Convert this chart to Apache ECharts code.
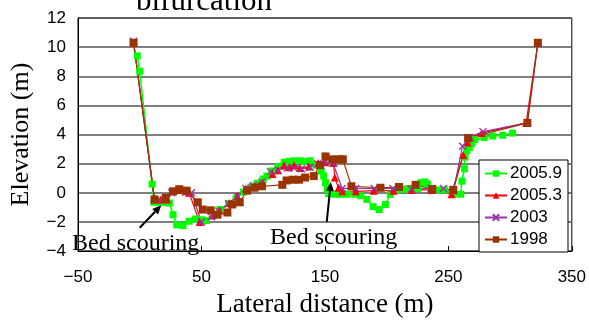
<!DOCTYPE html>
<html>
<head>
<meta charset="utf-8">
<script src="https://cdn.jsdelivr.net/npm/echarts@6/dist/echarts.min.js"></script>
<style>
  html, body { margin: 0; padding: 0; background: #fff; }
  #chart { width: 589px; height: 323px; }
</style>
</head>
<body>
<div id="chart"></div>
<script>
// Cross-section survey: lateral distance (m) vs bed elevation (m)
const seriesNames = ['2005.9', '2005.3', '2003', '1998'];

const x2005_9 = [-2, 0, 10, 11.5, 16, 21, 24, 27, 30, 35, 40, 45, 50, 54, 65, 72, 78, 84, 90, 95, 100, 103, 107, 112, 117, 121, 125, 130, 134, 138, 142.5, 147, 149, 150.5, 152, 153, 158, 163, 168, 174, 179, 184, 189, 194, 199, 203, 209, 215, 220, 225, 228, 231, 233, 237, 242, 247, 254, 260, 261, 263, 263.5, 265, 267, 269, 271.5, 279, 286, 294, 302];
const y2005_9 = [9.4, 8.35, 0.6, -0.65, -0.65, -0.65, -0.7, -1.5, -2.2, -2.25, -1.95, -1.8, -1.85, -1.9, -1.15, -0.75, -0.4, 0.05, 0.4, 0.65, 0.95, 1.15, 1.5, 1.8, 2.1, 2.15, 2.2, 2.2, 2.15, 2.2, 1.9, 1.5, 1.15, 0.7, 0.25, -0.05, -0.1, -0.1, -0.1, -0.1, -0.2, -0.45, -0.95, -1.15, -0.8, -0.1, 0.2, 0.25, 0.25, 0.3, 0.7, 0.75, 0.6, 0.3, 0.2, 0.2, -0.1, -0.1, 0.8, 1.65, 2.45, 2.9, 3.1, 3.4, 3.65, 3.8, 3.9, 3.95, 4.1];

const x2005_3 = [-5, 12, 17, 22, 26, 32, 37.5, 40, 48.5, 59, 64.5, 72.5, 79, 86, 92.5, 99.5, 107.5, 112, 117, 121, 125, 130, 137, 144.5, 150, 157, 158, 161, 164, 175, 189.5, 205.5, 220.5, 236.5, 252.5, 262, 265.5, 267.5, 277, 313, 322.5];
const y2005_3 = [10.3, -0.45, -0.45, -0.45, 0.1, 0.2, 0.1, 0.0, -2.0, -1.55, -1.2, -0.7, -0.2, 0.3, 0.45, 0.7, 1.3, 1.55, 1.9, 1.75, 1.9, 1.7, 1.8, 2.05, 2.1, 2.05, 1.05, 0.35, 0.1, 0.1, 0.15, 0.15, 0.2, 0.2, -0.1, 2.6, 3.45, 3.8, 4.1, 4.8, 10.3];

const x2003 = [-5, 12, 17, 22, 26, 32, 37, 42, 50, 58, 64, 72, 79, 86, 92, 99, 106, 112, 119.5, 125, 131, 138, 144, 150.5, 156.5, 164, 175, 190, 205, 220, 236, 246, 254, 261.5, 267, 278, 314, 322.5];
const y2003 = [10.4, -0.5, -0.5, -0.45, 0.0, 0.15, 0.05, 0.0, -2.0, -1.65, -1.25, -0.75, -0.25, 0.3, 0.5, 0.75, 1.45, 1.55, 1.7, 1.7, 1.65, 1.75, 2.0, 2.1, 2.05, 0.3, 0.3, 0.3, 0.3, 0.25, 0.3, 0.3, 0.1, 3.2, 3.8, 4.2, 4.8, 10.3];

const x1998 = [-5, 12, 21, 27, 32, 38, 47, 51, 57.5, 63, 71, 75, 81, 87, 93, 99, 115.5, 119, 124, 129, 134, 141, 146, 150.5, 156, 161.5, 164.5, 171.5, 195, 210, 223.5, 237, 254, 266, 314, 322.5];
const y1998 = [10.3, -0.45, -0.35, 0.1, 0.25, 0.15, -0.65, -1.15, -1.2, -1.5, -1.35, -0.8, -0.65, 0.15, 0.35, 0.45, 0.55, 0.85, 0.9, 0.9, 1.05, 1.15, 1.9, 2.5, 2.3, 2.3, 2.3, 0.45, 0.35, 0.4, 0.55, 0.25, 0.2, 3.75, 4.8, 10.3];

const xTicks = { min: -50, max: 350, interval: 100 };
const yTicks = { min: -4, max: 12, interval: 2 };

function pairs(xs, ys) { return xs.map((x, i) => [x, ys[i]]); }
const minus = v => String(v).replace('-', '\u2212');

const serif = '"Liberation Serif", "Times New Roman", serif';
const sans = '"Liberation Sans", Arial, sans-serif';

const chart = echarts.init(document.getElementById('chart'), null, { renderer: 'canvas' });

const crossSym = 'path://M0,0L10,10M10,0L0,10';

chart.setOption({
  animation: false,
  backgroundColor: '#fff',
  grid: { left: 78, right: 16, top: 18, bottom: 67, show: true, borderColor: '#000', borderWidth: 1, backgroundColor: 'transparent' },
  xAxis: {
    type: 'value', min: xTicks.min, max: xTicks.max, interval: xTicks.interval,
    name: 'Lateral distance (m)', nameLocation: 'middle', nameGap: 36,
    nameTextStyle: { fontFamily: serif, fontSize: 27, color: '#000' },
    axisLine: { onZero: false, lineStyle: { color: '#000', width: 1 } },
    axisTick: { inside: true, length: 5, lineStyle: { color: '#000' } },
    axisLabel: { margin: 18, fontFamily: sans, fontSize: 17, color: '#000', formatter: minus },
    splitLine: { show: false }
  },
  yAxis: {
    type: 'value', min: yTicks.min, max: yTicks.max, interval: yTicks.interval,
    name: 'Elevation (m)', nameLocation: 'middle', nameGap: 44, nameRotate: 90,
    nameTextStyle: { fontFamily: serif, fontSize: 26, color: '#000' },
    axisLine: { show: true, onZero: false, lineStyle: { color: '#000', width: 1 } },
    axisTick: { show: false },
    axisLabel: { margin: 12, fontFamily: sans, fontSize: 17, color: '#000', formatter: minus },
    splitLine: { show: true, lineStyle: { color: '#555', width: 1.5 } }
  },
  legend: {
    orient: 'vertical', left: 479, top: 160,
    backgroundColor: '#fff', borderColor: '#000', borderWidth: 1, borderRadius: 0,
    padding: [5, 6, 4, 5], itemGap: 5, itemWidth: 22, itemHeight: 8,
    textStyle: { fontFamily: sans, fontSize: 17, color: '#000', padding: [0, 0, 0, -2] },
    data: seriesNames
  },
  series: [
    {
      name: seriesNames[0], type: 'line', data: pairs(x2005_9, y2005_9),
      symbol: 'rect', symbolSize: 7, color: '#00ff00',
      lineStyle: { color: '#00ff00', width: 1.5 }, itemStyle: { color: '#00ff00' }
    },
    {
      name: seriesNames[1], type: 'line', data: pairs(x2005_3, y2005_3),
      symbol: 'triangle', symbolSize: 8, color: '#ff0000',
      lineStyle: { color: '#ff0000', width: 1.2 }, itemStyle: { color: '#ff0000' }
    },
    {
      name: seriesNames[2], type: 'line', data: pairs(x2003, y2003),
      symbol: crossSym, symbolSize: 7, color: '#9933aa',
      lineStyle: { color: '#9933aa', width: 1.2 },
      itemStyle: { color: '#9933aa', borderColor: '#9933aa', borderWidth: 1.3 }
    },
    {
      name: seriesNames[3], type: 'line', data: pairs(x1998, y1998),
      symbol: 'rect', symbolSize: 8, color: '#993300',
      lineStyle: { color: '#993300', width: 1.2 }, itemStyle: { color: '#993300' }
    }
  ]
});

// Annotation arrows, given in data coordinates: [tail, tip]
const arrows = [
  [[0, -2.4], [17.5, -0.85]],
  [[151.5, -2.0], [154.8, 0.75]]
];

const graphics = [
  {
    type: 'text', left: 136, top: -14, z: 0,
    style: { text: 'bifurcation', fontFamily: serif, fontSize: 31, fill: '#000' }
  },
  {
    type: 'text', left: 72, top: 232, z: 100,
    style: { text: 'Bed scouring', fontFamily: serif, fontSize: 24, fill: '#000' }
  },
  {
    type: 'text', left: 270, top: 226, z: 100,
    style: { text: 'Bed scouring', fontFamily: serif, fontSize: 24, fill: '#000' }
  }
];

arrows.forEach(([tail, tip]) => {
  const a = chart.convertToPixel({ gridIndex: 0 }, tail);
  const b = chart.convertToPixel({ gridIndex: 0 }, tip);
  const ang = Math.atan2(b[1] - a[1], b[0] - a[0]);
  const len = 9, half = 4;
  const bx = b[0] - len * Math.cos(ang), by = b[1] - len * Math.sin(ang);
  const px = -Math.sin(ang) * half, py = Math.cos(ang) * half;
  graphics.push({
    type: 'line', z: 100,
    shape: { x1: a[0], y1: a[1], x2: bx, y2: by },
    style: { stroke: '#000', lineWidth: 2 }
  });
  graphics.push({
    type: 'polygon', z: 100,
    shape: { points: [[b[0], b[1]], [bx + px, by + py], [bx - px, by - py]] },
    style: { fill: '#000' }
  });
});

chart.setOption({ graphic: graphics });
</script>
</body>
</html>
